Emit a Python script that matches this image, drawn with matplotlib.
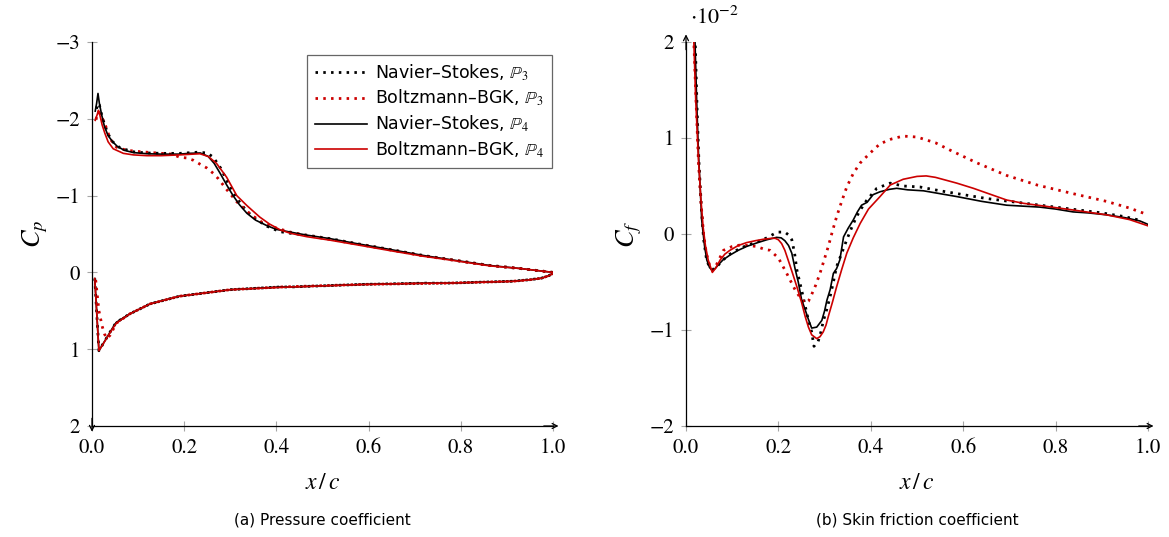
import numpy as np
import matplotlib
matplotlib.use('Agg')
import matplotlib.pyplot as plt

plt.rcParams['font.family'] = 'STIXGeneral'
plt.rcParams['mathtext.fontset'] = 'stix'

RED = '#cc0000'

# ---------------- pressure coefficient (upper surface, TE -> LE) ----------------
ns_p4_up_x = [1.0, 0.93, 0.863, 0.79, 0.719, 0.65, 0.574, 0.516, 0.466, 0.43, 0.40, 0.379, 0.355,
              0.336, 0.32, 0.306, 0.292, 0.278, 0.265, 0.252, 0.235, 0.21, 0.19, 0.15, 0.119, 0.09,
              0.07, 0.055, 0.045, 0.035, 0.027, 0.021, 0.016, 0.013, 0.010, 0.007]
ns_p4_up_cp = [0.0, -0.05, -0.09, -0.155, -0.22, -0.295, -0.375, -0.44, -0.485, -0.525, -0.56, -0.61,
               -0.68, -0.77, -0.88, -1.0, -1.14, -1.29, -1.42, -1.51, -1.555, -1.55, -1.54, -1.54,
               -1.545, -1.56, -1.59, -1.64, -1.70, -1.78, -1.9, -2.05, -2.2, -2.33, -2.2, -2.1]

ns_p3_up_x = [1.0, 0.93, 0.863, 0.79, 0.719, 0.65, 0.574, 0.516, 0.466, 0.43, 0.408, 0.38, 0.354,
              0.335, 0.317, 0.296, 0.28, 0.263, 0.25, 0.23, 0.19, 0.15, 0.119, 0.09, 0.061, 0.045,
              0.035, 0.027, 0.021, 0.016, 0.012, 0.008]
ns_p3_up_cp = [0.0, -0.05, -0.09, -0.155, -0.22, -0.295, -0.375, -0.44, -0.485, -0.51, -0.53, -0.6,
               -0.70, -0.80, -0.94, -1.15, -1.35, -1.50, -1.555, -1.565, -1.55, -1.55, -1.555, -1.57,
               -1.62, -1.70, -1.80, -1.93, -2.05, -2.18, -2.2, -2.07]

bgk_p4_up_x = [1.0, 0.93, 0.863, 0.79, 0.719, 0.65, 0.574, 0.516, 0.466, 0.43, 0.408, 0.385, 0.364,
               0.336, 0.314, 0.292, 0.27, 0.252, 0.234, 0.19, 0.15, 0.119, 0.09, 0.068, 0.046, 0.035,
               0.028, 0.022, 0.017, 0.014, 0.011, 0.007]
bgk_p4_up_cp = [0.0, -0.05, -0.085, -0.15, -0.21, -0.28, -0.36, -0.42, -0.465, -0.51, -0.555, -0.63,
                -0.72, -0.87, -1.0, -1.24, -1.42, -1.51, -1.545, -1.53, -1.52, -1.52, -1.53, -1.55,
                -1.61, -1.70, -1.81, -1.92, -2.05, -2.11, -2.05, -1.98]

bgk_p3_up_x = [1.0, 0.93, 0.863, 0.79, 0.719, 0.65, 0.574, 0.516, 0.466, 0.43, 0.393, 0.368, 0.343,
               0.314, 0.292, 0.274, 0.263, 0.249, 0.234, 0.22, 0.205, 0.19, 0.173, 0.141, 0.108,
               0.075, 0.053, 0.039, 0.032, 0.025, 0.019, 0.014, 0.010, 0.007]
bgk_p3_up_cp = [0.0, -0.05, -0.09, -0.155, -0.215, -0.29, -0.37, -0.43, -0.48, -0.525, -0.59, -0.655,
                -0.76, -0.92, -1.08, -1.22, -1.29, -1.36, -1.41, -1.46, -1.49, -1.50, -1.54, -1.555,
                -1.57, -1.59, -1.63, -1.74, -1.87, -1.97, -2.05, -2.09, -2.02, -1.96]

# ---------------- pressure coefficient (lower surface, LE -> TE) ----------------
ns_lo_x = [0.006, 0.015, 0.046, 0.053, 0.082, 0.126, 0.19, 0.30, 0.408, 0.43, 0.588, 0.72, 0.77,
           0.913, 0.95, 0.975, 0.99, 1.0]
ns_lo_cp = [0.08, 1.02, 0.71, 0.65, 0.54, 0.41, 0.31, 0.225, 0.19, 0.19, 0.156, 0.14, 0.14,
            0.115, 0.095, 0.075, 0.045, 0.015]

bgk_p4_lo_x = [0.006, 0.015, 0.046, 0.053, 0.082, 0.126, 0.19, 0.30, 0.408, 0.43, 0.588, 0.72, 0.77,
               0.913, 0.95, 0.975, 0.99, 1.0]
bgk_p4_lo_cp = [0.08, 1.02, 0.72, 0.66, 0.54, 0.41, 0.31, 0.225, 0.195, 0.19, 0.158, 0.142, 0.14,
                0.117, 0.097, 0.077, 0.047, 0.015]

bgk_p3_lo_x = [0.008, 0.015, 0.022, 0.027, 0.032, 0.039, 0.053, 0.082, 0.126, 0.19, 0.30, 0.408,
               0.588, 0.77, 0.913, 0.95, 0.975, 0.99, 1.0]
bgk_p3_lo_cp = [0.1, 0.5, 0.7, 0.8, 0.86, 0.82, 0.66, 0.54, 0.41, 0.31, 0.225, 0.19, 0.156, 0.14,
                0.115, 0.095, 0.075, 0.045, 0.015]

# ---------------- skin friction coefficient (x 1e-2) ----------------
ns_p4_cf_x = [0.016, 0.0195, 0.023, 0.027, 0.031, 0.034, 0.04, 0.045, 0.051, 0.057, 0.063, 0.07,
              0.08, 0.095, 0.113, 0.131, 0.155, 0.175, 0.196, 0.206, 0.214, 0.222, 0.229, 0.236,
              0.243, 0.25, 0.258, 0.265, 0.272, 0.283, 0.294, 0.30, 0.305, 0.312, 0.319, 0.326,
              0.333, 0.341, 0.351, 0.362, 0.371, 0.380, 0.392, 0.405, 0.42, 0.44, 0.456, 0.48,
              0.514, 0.55, 0.586, 0.64, 0.694, 0.73, 0.766, 0.80, 0.838, 0.87, 0.91, 0.95, 0.983, 1.0]
ns_p4_cf = [2.4, 2.0, 1.4, 0.84, 0.45, 0.146, -0.12, -0.27, -0.35, -0.38, -0.36, -0.32, -0.27,
            -0.22, -0.17, -0.13, -0.09, -0.06, -0.035, -0.04, -0.07, -0.12, -0.2, -0.36, -0.5,
            -0.68, -0.79, -0.89, -0.98, -0.97, -0.90, -0.80, -0.69, -0.58, -0.41, -0.36, -0.27,
            -0.03, 0.06, 0.146, 0.23, 0.30, 0.33, 0.41, 0.44, 0.465, 0.476, 0.46, 0.45, 0.42, 0.39,
            0.34, 0.30, 0.29, 0.28, 0.26, 0.23, 0.22, 0.20, 0.17, 0.135, 0.10]

ns_p3_cf_x = [0.016, 0.02, 0.024, 0.028, 0.033, 0.038, 0.044, 0.05, 0.057, 0.065, 0.08, 0.095,
              0.113, 0.131, 0.155, 0.175, 0.19, 0.2, 0.214, 0.222, 0.229, 0.235, 0.24, 0.25, 0.258,
              0.266, 0.272, 0.277, 0.286, 0.292, 0.297, 0.305, 0.312, 0.319, 0.326, 0.337, 0.348,
              0.358, 0.369, 0.38, 0.391, 0.413, 0.442, 0.47, 0.506, 0.55, 0.6, 0.65, 0.7, 0.75,
              0.8, 0.85, 0.9, 0.95, 0.985]
ns_p3_cf = [2.5, 2.0, 1.3, 0.75, 0.3, -0.05, -0.25, -0.34, -0.37, -0.35, -0.27, -0.21, -0.16,
            -0.12, -0.08, -0.04, 0.0, 0.02, 0.02, -0.01, -0.06, -0.2, -0.375, -0.58, -0.75, -0.92,
            -1.02, -1.17, -1.12, -1.02, -0.91, -0.78, -0.65, -0.50, -0.34, -0.2, -0.06, 0.06, 0.18,
            0.27, 0.35, 0.476, 0.53, 0.5, 0.49, 0.45, 0.41, 0.37, 0.34, 0.31, 0.28, 0.25, 0.22,
            0.18, 0.14]

bgk_p4_cf_x = [0.013, 0.017, 0.021, 0.027, 0.032, 0.037, 0.042, 0.048, 0.057, 0.065, 0.074, 0.084,
               0.095, 0.113, 0.131, 0.15, 0.167, 0.185, 0.193, 0.2, 0.207, 0.214, 0.221, 0.23, 0.24,
               0.25, 0.258, 0.265, 0.272, 0.283, 0.29, 0.297, 0.303, 0.308, 0.317, 0.326, 0.337,
               0.348, 0.362, 0.377, 0.395, 0.42, 0.442, 0.47, 0.50, 0.52, 0.54, 0.586, 0.622, 0.694,
               0.73, 0.838, 0.91, 0.96, 1.0]
bgk_p4_cf = [2.5, 2.0, 1.4, 0.77, 0.38, 0.076, -0.12, -0.27, -0.40, -0.35, -0.27, -0.21, -0.17,
             -0.12, -0.09, -0.07, -0.055, -0.045, -0.045, -0.06, -0.10, -0.17, -0.27, -0.40,
             -0.55, -0.71, -0.86, -0.97, -1.05, -1.09, -1.07, -1.02, -0.95, -0.86, -0.71, -0.55,
             -0.37, -0.2, -0.04, 0.11, 0.26, 0.39, 0.51, 0.57, 0.60, 0.605, 0.59, 0.53, 0.476,
             0.354, 0.32, 0.25, 0.20, 0.15, 0.085]

bgk_p3_cf_x = [0.013, 0.017, 0.022, 0.027, 0.032, 0.038, 0.044, 0.05, 0.057, 0.065, 0.081, 0.10,
               0.117, 0.135, 0.153, 0.17, 0.182, 0.2, 0.218, 0.236, 0.248, 0.258, 0.265, 0.272,
               0.281, 0.29, 0.299, 0.308, 0.317, 0.326, 0.337, 0.348, 0.362, 0.377, 0.40, 0.42,
               0.445, 0.47, 0.50, 0.54, 0.571, 0.63, 0.694, 0.76, 0.838, 0.91, 0.96, 1.0]
bgk_p3_cf = [2.5, 2.0, 1.35, 0.75, 0.35, 0.0, -0.2, -0.31, -0.38, -0.33, -0.17, -0.13, -0.115,
             -0.12, -0.13, -0.16, -0.17, -0.25, -0.41, -0.58, -0.67, -0.72, -0.70, -0.63, -0.53,
             -0.41, -0.27, -0.13, 0.03, 0.18, 0.34, 0.49, 0.63, 0.74, 0.85, 0.94, 0.99, 1.02,
             1.01, 0.95, 0.875, 0.74, 0.61, 0.51, 0.42, 0.34, 0.27, 0.2]

labels = [r'Navier–Stokes, $\mathbb{P}_3$', r'Boltzmann–BGK, $\mathbb{P}_3$',
          r'Navier–Stokes, $\mathbb{P}_4$', r'Boltzmann–BGK, $\mathbb{P}_4$']

dot = dict(lw=2.0, ls=(0, (0.9, 1.9)))
sol = dict(lw=1.2, ls='-')


def style_axes(ax, arrow_up):
    ax.spines['top'].set_visible(False)
    ax.spines['right'].set_visible(False)
    ax.spines['left'].set_linewidth(0.9)
    ax.spines['bottom'].set_linewidth(0.9)
    ax.tick_params(direction='inout', length=7, width=0.8, color='0.65',
                   labelsize=15, pad=5)
    ap = dict(arrowstyle='->', lw=0.9, color='k', mutation_scale=9, shrinkA=0, shrinkB=0)
    ax.annotate('', xy=(1.012, 0), xytext=(0.98, 0), xycoords='axes fraction', arrowprops=ap)
    if arrow_up:
        ax.annotate('', xy=(0, 1.02), xytext=(0, 0.98), xycoords='axes fraction', arrowprops=ap)
    else:
        ax.annotate('', xy=(0, -0.015), xytext=(0, 0.02), xycoords='axes fraction', arrowprops=ap)


fig = plt.figure(figsize=(11.69, 5.37), dpi=100)

# (a) pressure coefficient
ax1 = fig.add_axes([92 / 1169, 1 - 426 / 537, 461 / 1169, 384 / 537])
ax1.plot(ns_p3_up_x, ns_p3_up_cp, color='k', label=labels[0], **dot)
ax1.plot(bgk_p3_up_x, bgk_p3_up_cp, color=RED, label=labels[1], **dot)
ax1.plot(ns_p4_up_x, ns_p4_up_cp, color='k', label=labels[2], **sol)
ax1.plot(bgk_p4_up_x, bgk_p4_up_cp, color=RED, label=labels[3], **sol)
ax1.plot(ns_lo_x, ns_lo_cp, color='k', **dot)
ax1.plot(bgk_p3_lo_x, bgk_p3_lo_cp, color=RED, **dot)
ax1.plot(ns_lo_x, ns_lo_cp, color='k', **sol)
ax1.plot(bgk_p4_lo_x, bgk_p4_lo_cp, color=RED, **sol)
ax1.set_xlim(0, 1)
ax1.set_ylim(2, -3)
ax1.set_xticks([0, 0.2, 0.4, 0.6, 0.8, 1.0])
ax1.set_yticks([-3, -2, -1, 0, 1, 2])
ax1.set_xlabel(r'$x\,/\,c$', fontsize=17, labelpad=11)
ax1.set_ylabel(r'$C_p$', fontsize=19, labelpad=4)
style_axes(ax1, arrow_up=False)
leg = ax1.legend(loc='upper right', bbox_to_anchor=(0.997, 0.967), fancybox=False,
                 edgecolor='0.25', prop={'family': 'DejaVu Sans', 'size': 12.5},
                 handlelength=3.0, handletextpad=0.45, labelspacing=0.3, borderpad=0.45,
                 borderaxespad=0)
leg.get_frame().set_linewidth(0.9)

# (b) skin friction coefficient
ax2 = fig.add_axes([686 / 1169, 1 - 426 / 537, 462 / 1169, 384 / 537])
ax2.plot(ns_p3_cf_x, ns_p3_cf, color='k', **dot)
ax2.plot(bgk_p3_cf_x, bgk_p3_cf, color=RED, **dot)
ax2.plot(ns_p4_cf_x, ns_p4_cf, color='k', **sol)
ax2.plot(bgk_p4_cf_x, bgk_p4_cf, color=RED, **sol)
ax2.set_xlim(0, 1)
ax2.set_ylim(-2, 2)
ax2.set_xticks([0, 0.2, 0.4, 0.6, 0.8, 1.0])
ax2.set_yticks([-2, -1, 0, 1, 2])
ax2.set_xlabel(r'$x\,/\,c$', fontsize=17, labelpad=11)
ax2.set_ylabel(r'$C_f$', fontsize=19, labelpad=4)
style_axes(ax2, arrow_up=True)
fig.text(690 / 1169, 1 - 18 / 537, r'$\cdot 10^{-2}$', fontsize=16, ha='left', va='center')

fig.text(322 / 1169, 1 - 520 / 537, '(a) Pressure coefficient', family='DejaVu Sans',
         fontsize=11, ha='center', va='center')
fig.text(917 / 1169, 1 - 520 / 537, '(b) Skin friction coefficient', family='DejaVu Sans',
         fontsize=11, ha='center', va='center')

fig.savefig('out.png', dpi=100)
